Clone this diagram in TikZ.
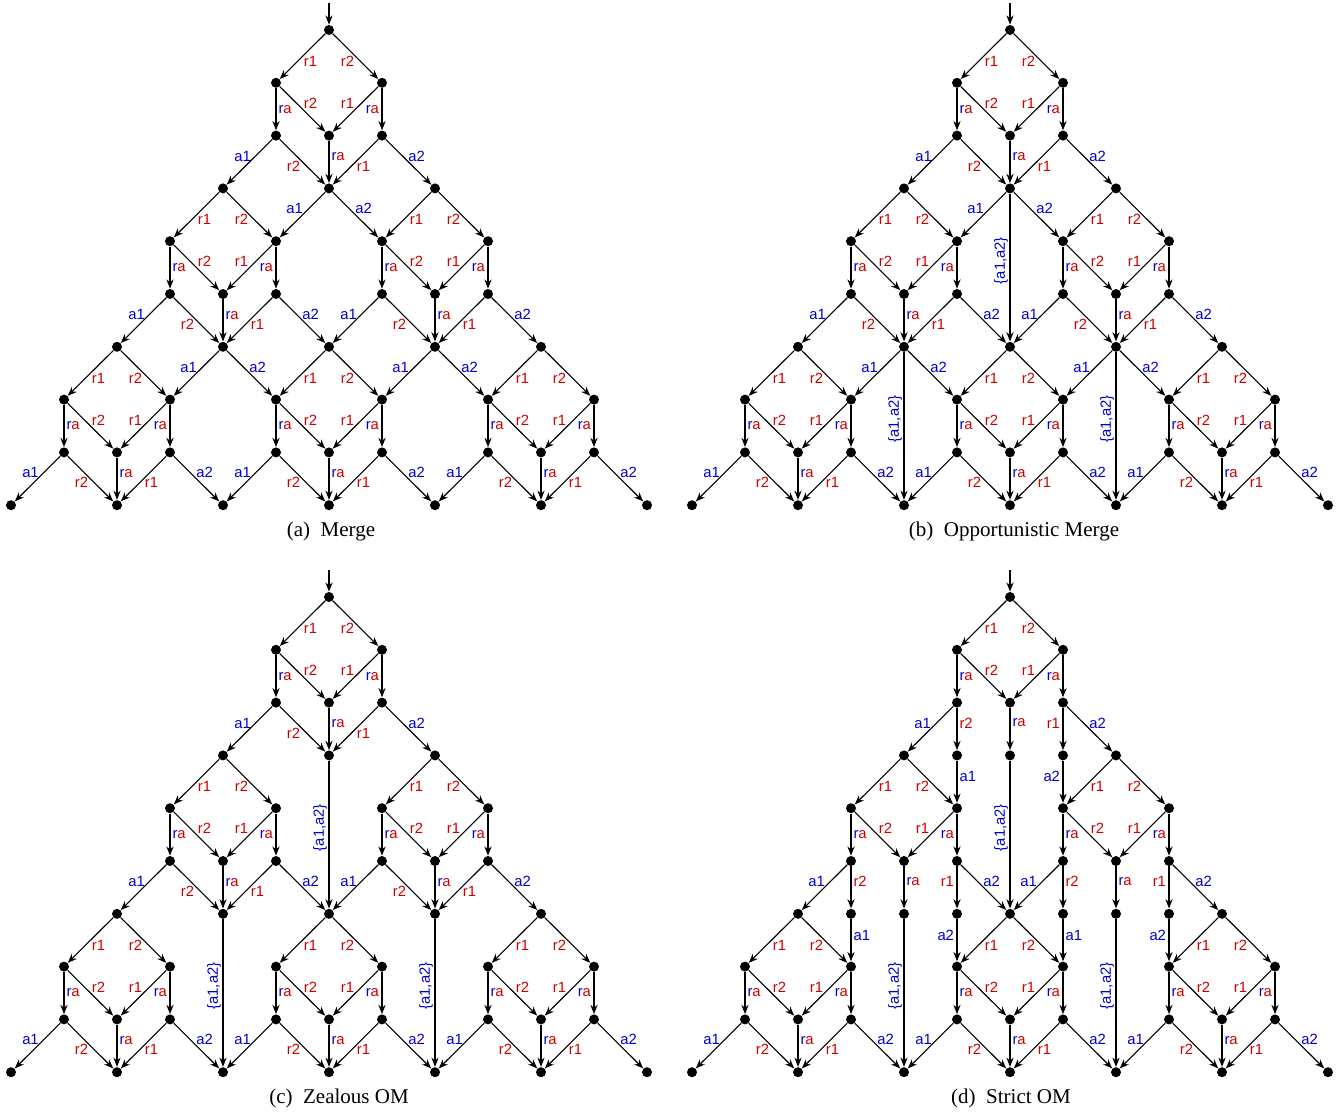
\documentclass[tikz,border=0pt]{standalone}
\usepackage{fontspec}
\setmainfont{Liberation Serif}
\newfontfamily\labfont{Liberation Sans}
\usetikzlibrary{arrows.meta}
\definecolor{cR}{RGB}{204,0,0}
\definecolor{cB}{RGB}{0,0,204}
\newcommand{\lrI}{\textcolor{cR}{r1}}
\newcommand{\lrII}{\textcolor{cR}{r2}}
\newcommand{\laI}{\textcolor{cB}{a1}}
\newcommand{\laII}{\textcolor{cB}{a2}}
\newcommand{\lRa}{\textcolor{cB}{r}\textcolor{cR}{a}}
\newcommand{\lAA}{\textcolor{cB}{\{a1,a2\}}}
\tikzset{
  dot/.style={circle,fill=black,inner sep=0pt,minimum size=5pt},
  arr/.style={line width=0.55pt,-{Stealth[length=4.6pt,width=3.6pt,inset=1.5pt]}},
  lab/.style={inner sep=0pt,font=\labfont\fontsize{7.4}{8}\selectfont},
  labR/.style={lab,anchor=west,shift={(2,#1)}}, labR/.default=0,
  labL/.style={lab,anchor=east,shift={(-2.5,#1)}}, labL/.default=0,
  labV/.style={lab,shift={(-9,-7)},rotate=90},
  captext/.style={inner sep=0pt,font=\fontsize{10.5}{12}\selectfont},
}
\newcommand{\Nodes}[2]{%
  \edef\nodelisttmp{#2}%
  \foreach \cc/\rr in \nodelisttmp {\node[dot] (#1-\cc-\rr) at ({11+53*\cc},{30+52.8*\rr}) {};}%
  \coordinate (#1-in) at (329,3);
  \draw[arr] (#1-in) -- (#1-6-0);
}
\newcommand{\Gtop}[3]{%
  \pgfmathtruncatemacro\gcL{#2-1}%
  \pgfmathtruncatemacro\gcR{#2+1}%
  \pgfmathtruncatemacro\grA{#3+1}%
  \pgfmathtruncatemacro\grB{#3+2}%
  \draw[arr] (#1-#2-#3) -- node[lab,shift={(8,5)}]{\lrI} (#1-\gcL-\grA);
  \draw[arr] (#1-#2-#3) -- node[lab,shift={(-8,5)}]{\lrII} (#1-\gcR-\grA);
  \draw[arr] (#1-\gcL-\grA) -- node[labR]{\lRa} (#1-\gcL-\grB);
  \draw[arr] (#1-\gcL-\grA) -- node[lab,shift={(8,-6)}]{\lrII} (#1-#2-\grB);
  \draw[arr] (#1-\gcR-\grA) -- node[lab,shift={(-8,-6)}]{\lrI} (#1-#2-\grB);
  \draw[arr] (#1-\gcR-\grA) -- node[labL]{\lRa} (#1-\gcR-\grB);
}
\newcommand{\Gbot}[3]{%
  \pgfmathtruncatemacro\gcL{#2-1}%
  \pgfmathtruncatemacro\gcR{#2+1}%
  \pgfmathtruncatemacro\gcLL{#2-2}%
  \pgfmathtruncatemacro\gcRR{#2+2}%
  \pgfmathtruncatemacro\grB{#3+2}%
  \pgfmathtruncatemacro\grC{#3+3}%
  \draw[arr] (#1-\gcL-\grB) -- node[lab,shift={(-9,4)}]{\lrII} (#1-#2-\grC);
  \draw[arr] (#1-#2-\grB) -- node[labR=-5]{\lRa} (#1-#2-\grC);
  \draw[arr] (#1-\gcR-\grB) -- node[lab,shift={(8,4)}]{\lrI} (#1-#2-\grC);
  \draw[arr] (#1-\gcL-\grB) -- node[lab,shift={(-7,-6)}]{\laI} (#1-\gcLL-\grC);
  \draw[arr] (#1-\gcR-\grB) -- node[lab,shift={(8,-6)}]{\laII} (#1-\gcRR-\grC);
}
\newcommand{\Gsplit}[3]{%
  \pgfmathtruncatemacro\gcL{#2-1}%
  \pgfmathtruncatemacro\gcR{#2+1}%
  \pgfmathtruncatemacro\gcLL{#2-2}%
  \pgfmathtruncatemacro\gcRR{#2+2}%
  \pgfmathtruncatemacro\grB{#3+2}%
  \pgfmathtruncatemacro\grC{#3+3}%
  \pgfmathtruncatemacro\grD{#3+4}%
  \pgfmathtruncatemacro\grF{#3+6}%
  \draw[arr] (#1-\gcL-\grB) -- node[labR=-6]{\lrII} (#1-\gcL-\grC);
  \draw[arr] (#1-#2-\grB) -- node[labR=-6]{\lRa} (#1-#2-\grC);
  \draw[arr] (#1-\gcR-\grB) -- node[labL=-6]{\lrI} (#1-\gcR-\grC);
  \draw[arr] (#1-\gcL-\grB) -- node[lab,shift={(-8,-6)}]{\laI} (#1-\gcLL-\grC);
  \draw[arr] (#1-\gcR-\grB) -- node[lab,shift={(8,-6)}]{\laII} (#1-\gcRR-\grC);
  \draw[arr] (#1-\gcL-\grC) -- node[labR=-5]{\laI} (#1-\gcL-\grD);
  \draw[arr] (#1-\gcR-\grC) -- node[labL=-5]{\laII} (#1-\gcR-\grD);
  \draw[arr] (#1-#2-\grC) -- node[labV]{\lAA} (#1-#2-\grF);
}
\newcommand{\Bsplit}[3]{%
  \pgfmathtruncatemacro\gcL{#2-1}%
  \pgfmathtruncatemacro\gcR{#2+1}%
  \pgfmathtruncatemacro\grA{#3+1}%
  \draw[arr] (#1-#2-#3) -- node[lab,shift={(-8,-6)}]{\laI} (#1-\gcL-\grA);
  \draw[arr] (#1-#2-#3) -- node[lab,shift={(8,-6)}]{\laII} (#1-\gcR-\grA);
}
\newcommand{\Vline}[3]{%
  \pgfmathtruncatemacro\grF{#3+3}%
  \draw[arr] (#1-#2-#3) -- node[labV]{\lAA} (#1-#2-\grF);
}
\newcommand{\BaseList}{6/0,5/1,7/1,5/2,6/2,7/2,4/3,6/3,8/3,3/4,5/4,7/4,9/4,3/5,4/5,5/5,7/5,8/5,9/5,2/6,4/6,6/6,8/6,10/6,1/7,3/7,5/7,7/7,9/7,11/7,1/8,2/8,3/8,5/8,6/8,7/8,9/8,10/8,11/8,0/9,2/9,4/9,6/9,8/9,10/9,12/9}
\begin{document}
\begin{tikzpicture}[x=0.5pt,y=-0.5pt]
\useasboundingbox (0,0) rectangle (1343,1115);
% ---------- (a) Merge
\begin{scope}
  \Nodes{pa}{\BaseList}
  \foreach \gc/\gr in {6/0,4/3,8/3,2/6,6/6,10/6} {\Gtop{pa}{\gc}{\gr}\Gbot{pa}{\gc}{\gr}}
  \Bsplit{pa}{6}{3}\Bsplit{pa}{4}{6}\Bsplit{pa}{8}{6}
\end{scope}
% ---------- (b) Opportunistic Merge
\begin{scope}[shift={(681,0)}]
  \Nodes{pb}{\BaseList}
  \foreach \gc/\gr in {6/0,4/3,8/3,2/6,6/6,10/6} {\Gtop{pb}{\gc}{\gr}\Gbot{pb}{\gc}{\gr}}
  \Bsplit{pb}{6}{3}\Bsplit{pb}{4}{6}\Bsplit{pb}{8}{6}
  \Vline{pb}{6}{3}\Vline{pb}{4}{6}\Vline{pb}{8}{6}
\end{scope}
% ---------- (c) Zealous OM
\begin{scope}[shift={(0,567)}]
  \Nodes{pc}{\BaseList}
  \foreach \gc/\gr in {6/0,4/3,8/3,2/6,6/6,10/6} {\Gtop{pc}{\gc}{\gr}\Gbot{pc}{\gc}{\gr}}
  \Vline{pc}{6}{3}\Vline{pc}{4}{6}\Vline{pc}{8}{6}
\end{scope}
% ---------- (d) Strict OM
\begin{scope}[shift={(681,567)}]
  \Nodes{pd}{\BaseList,5/3,7/3,3/6,5/6,7/6,9/6}
  \foreach \gc/\gr in {6/0,4/3,8/3,2/6,6/6,10/6} {\Gtop{pd}{\gc}{\gr}}
  \foreach \gc/\gr in {6/0,4/3,8/3} {\Gsplit{pd}{\gc}{\gr}}
  \foreach \gc/\gr in {2/6,6/6,10/6} {\Gbot{pd}{\gc}{\gr}}
\end{scope}
% ---------- captions
\node[captext] (capa) at (331,531) {(a)\enspace Merge};
\node[captext] (capb) at (1014,531) {(b)\enspace Opportunistic Merge};
\node[captext] (capc) at (339,1098) {(c)\enspace Zealous OM};
\node[captext] (capd) at (1011,1098) {(d)\enspace Strict OM};
\end{tikzpicture}
\end{document}
